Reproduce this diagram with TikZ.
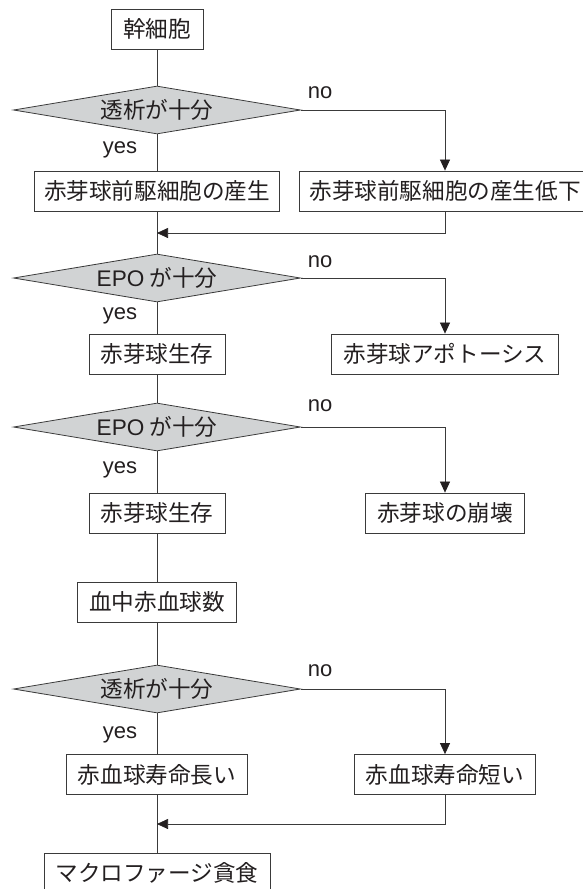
\documentclass[tikz,border=0pt]{standalone}
\usepackage{fontspec}
\setmainfont{Liberation Sans}
\newfontfamily\jp{Noto Sans CJK JP}
\usetikzlibrary{shapes.geometric,arrows.meta}
\definecolor{ln}{HTML}{3A3A3A}
\definecolor{txt}{HTML}{231F20}
\definecolor{dfill}{HTML}{D1D3D4}
\begin{document}
\begin{tikzpicture}[x=1pt,y=-1pt,
  every node/.style={font=\jp\fontsize{22.6}{26}\selectfont, text=txt},
  box/.style={draw=ln, line width=0.8pt, fill=white, inner sep=0pt, minimum height=40pt, align=center},
  dec/.style={diamond, draw=ln, line width=0.8pt, fill=dfill, inner sep=0pt, minimum width=287pt, minimum height=48pt, shape aspect=6},
  lab/.style={font=\fontsize{22}{26}\selectfont, inner sep=0pt},
  con/.style={draw=ln, line width=0.75pt},
  arr/.style={con, -{Triangle[length=11pt,width=10pt,color=txt]}}]
\clip (0,0) rectangle (583,889);
\fill[white] (0,0) rectangle (583,889);
% nodes
\node[box, minimum width=92pt] (stem) at (157,29) {幹細胞};
\node[dec] (d1) at (157,110) {透析が十分};
\node[box, minimum width=245pt] (a1) at (157,191) {赤芽球前駆細胞の産生};
\node[box, minimum width=292pt] (b1) at (445,191) {赤芽球前駆細胞の産生低下};
\coordinate (j1) at (157,233);
\node[dec] (d2) at (157,278) {\textrm{EPO} が十分};
\node[box, minimum width=136pt] (a2) at (157,354) {赤芽球生存};
\node[box, minimum width=227pt] (b2) at (445,354) {赤芽球アポトーシス};
\node[dec] (d3) at (157,427) {\textrm{EPO} が十分};
\node[box, minimum width=136pt] (a3) at (157,513) {赤芽球生存};
\node[box, minimum width=159pt] (b3) at (445,513) {赤芽球の崩壊};
\node[box, minimum width=159pt] (blood) at (157,602) {血中赤血球数};
\node[dec] (d4) at (157,689) {透析が十分};
\node[box, minimum width=181pt] (a4) at (157,774.5) {赤血球寿命長い};
\node[box, minimum width=181pt] (b4) at (445,774.5) {赤血球寿命短い};
\coordinate (j2) at (157,824);
\node[box, minimum width=226pt] (mac) at (157,873) {マクロファージ貪食};
% labels
\node[lab] (no1) at (320,93) {no};
\node[lab] (yes1) at (120,150) {yes};
\node[lab] (no2) at (320,262) {no};
\node[lab] (yes2) at (120,316) {yes};
\node[lab] (no3) at (320,406) {no};
\node[lab] (yes3) at (120,470) {yes};
\node[lab] (no4) at (320,671) {no};
\node[lab] (yes4) at (120,735) {yes};
% connectors
\draw[con] (stem) -- (d1);
\draw[con] (d1) -- (a1);
\draw[arr] (d1.east) -| (b1.north);
\draw[con] (a1) -- (d2);
\draw[arr] (b1.south) |- (j1);
\draw[con] (d2) -- (a2);
\draw[arr] (d2.east) -| (b2.north);
\draw[con] (a2) -- (d3);
\draw[con] (d3) -- (a3);
\draw[arr] (d3.east) -| (b3.north);
\draw[con] (a3) -- (blood);
\draw[con] (blood) -- (d4);
\draw[con] (d4) -- (a4);
\draw[arr] (d4.east) -| (b4.north);
\draw[con] (a4) -- (mac);
\draw[arr] (b4.south) |- (j2);
\end{tikzpicture}
\end{document}
